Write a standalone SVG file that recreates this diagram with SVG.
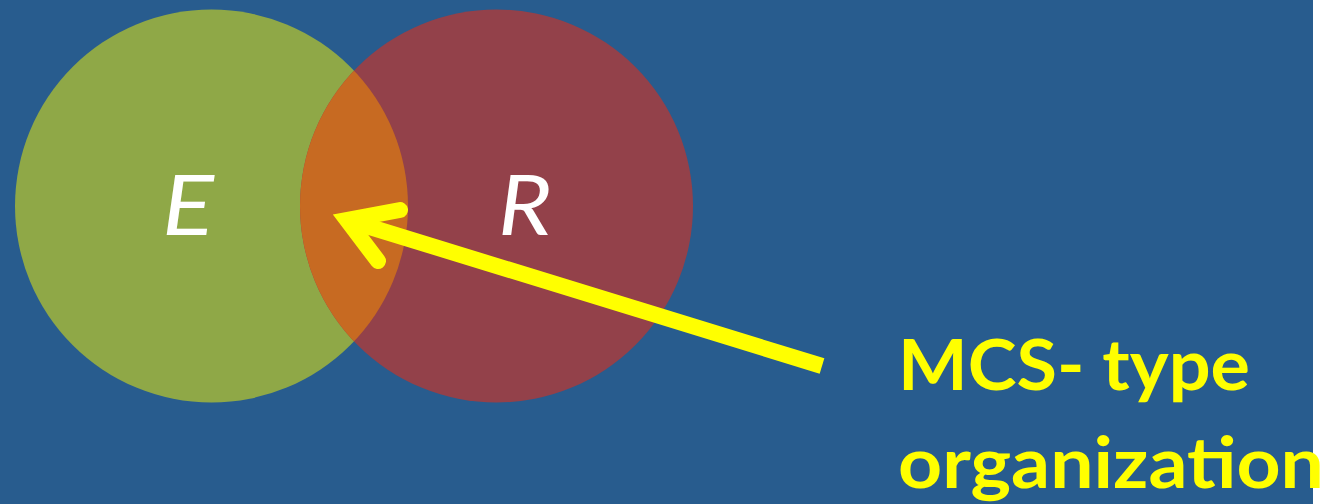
<svg xmlns="http://www.w3.org/2000/svg" width="1341" height="504" viewBox="0 0 1341 504">
  <style>
    .lbl { font-family: Lato, "Liberation Sans", sans-serif; font-style: italic; font-size: 84px; fill: #ffffff; text-anchor: middle; }
    .cap { font-family: Lato, "Liberation Sans", sans-serif; font-weight: bold; font-size: 71px; fill: #ffff00; }
    .arrow { fill: none; stroke: #ffff00; stroke-width: 16; }
  </style>
  <defs>
    <clipPath id="clipE"><circle cx="211.5" cy="206" r="196.5"/></clipPath>
  </defs>
  <rect x="0" y="0" width="1341" height="504" fill="#ffffff"/>
  <rect x="0" y="0" width="1313" height="504" fill="#285C8E"/>
  <g id="node-E">
    <circle cx="211.5" cy="206" r="196.5" fill="#8FA847"/>
  </g>
  <g id="node-R">
    <circle cx="496.5" cy="206" r="196.5" fill="#93414A"/>
  </g>
  <g id="overlap">
    <circle cx="496.5" cy="206" r="196.5" fill="#C76A22" clip-path="url(#clipE)"/>
  </g>
  <g id="labels">
    <text class="lbl" x="188" y="235" transform="translate(188 0) scale(1.15 1) translate(-188 0)">E</text>
    <text class="lbl" x="525" y="235" transform="translate(525 0) scale(1.1 1) translate(-525 0)">R</text>
  </g>
  <g id="connectors">
    <line class="arrow" x1="822" y1="366" x2="347" y2="220" stroke-linecap="butt"/>
    <polyline class="arrow" points="400,210 347,220 378,261" stroke-linecap="round" stroke-linejoin="miter" stroke-miterlimit="10"/>
  </g>
  <g id="caption">
    <text class="cap" x="898" y="390" textLength="352" lengthAdjust="spacingAndGlyphs">MCS- type</text>
    <text class="cap" x="898" y="488" textLength="426" lengthAdjust="spacingAndGlyphs">organization</text>
  </g>
</svg>
